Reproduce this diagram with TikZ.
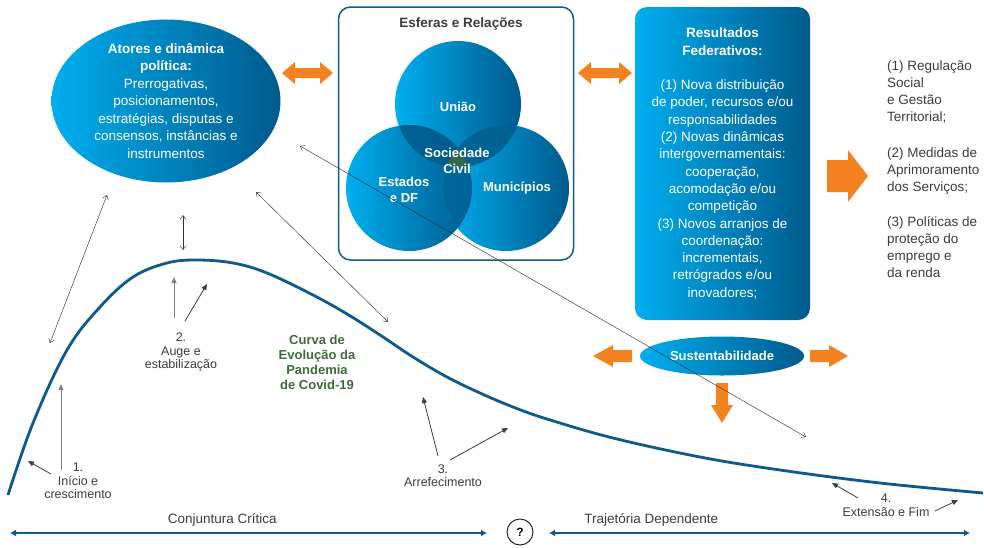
\documentclass[tikz,border=0pt]{standalone}
\usepackage{fontspec}
\setmainfont{Liberation Sans}
\usetikzlibrary{arrows.meta}
\usetikzlibrary{positioning}
\usetikzlibrary{shapes.geometric}
\definecolor{fedcyan}{HTML}{00AEEF}
\definecolor{fedblue}{HTML}{005A8C}
\definecolor{fedline}{HTML}{0F5A8C}
\definecolor{fedorange}{HTML}{F58220}
\definecolor{fedgreen}{HTML}{3F6B38}
\definecolor{fedgray}{HTML}{3C3C3C}
\begin{document}
\begin{tikzpicture}[x=1pt,y=-1pt,
	fedfill/.style={left color=fedcyan, right color=fedblue, draw=none},
	inner/.style={text=white, font=\bfseries\fontsize{13}{16}\selectfont, align=center},
	link/.style={black!80, line width=0.45pt, {Straight Barb[length=4pt,width=6pt]}-{Straight Barb[length=4pt,width=6pt]}},
	pointer/.style={fedgray, line width=0.8pt, -{Triangle[length=6pt,width=5pt]}},
	phase/.style={text=fedgray, align=center, font=\fontsize{12.5}{13.5}\selectfont},
	blockarrow/.style={fill=fedorange},
	axis/.style={fedline, line width=2.2pt, {Latex[length=6pt,width=7pt]}-{Latex[length=6pt,width=7pt]}}]
				\useasboundingbox (0,0) rectangle (984,547);

				\node[ellipse, fedfill, minimum width=229, minimum height=163, inner sep=0pt, text=white, align=center, font=\fontsize{13.5}{17.5}\selectfont] (atores) at (166,101) {\textbf{Atores e dinâmica}\\\textbf{política:}\\Prerrogativas,\\posicionamentos,\\estratégias, disputas e\\consensos, instâncias e\\instrumentos};

				\node[draw=fedline, line width=1.5pt, rounded corners=12pt, minimum width=235, minimum height=253] (esferas) at (456,133.5) {};
				\node[font=\bfseries\fontsize{13.5}{16}\selectfont, text=fedgray] (esftitle) at (461,24) {Esferas e Relações};
				\node[circle, fedfill, minimum size=126, inner sep=0pt] (uniao) at (458,104) {};
				\node[circle, fedfill, minimum size=126, inner sep=0pt] (estados) at (409,188) {};
				\node[circle, fedfill, minimum size=126, inner sep=0pt] (municipios) at (506,188) {};
				\begin{scope}
					\clip (uniao.center) circle (63);
					\fill[fedblue, opacity=.85] (estados.center) circle (63);
					\fill[fedblue, opacity=.85] (municipios.center) circle (63);
				\end{scope}
				\begin{scope}
					\clip (estados.center) circle (63);
					\fill[fedblue, opacity=.85] (municipios.center) circle (63);
				\end{scope}
				\begin{scope}
					\clip (uniao.center) circle (63);
					\clip (estados.center) circle (63);
					\fill[fedgreen!80!fedblue] (municipios.center) circle (63);
				\end{scope}
				\node[inner] (luniao) at (458,107) {União};
				\node[inner] (lsociedade) at (457,161) {Sociedade\\Civil};
				\node[inner] (lestados) at (404,190) {Estados\\e DF};
				\node[inner] (lmunicipios) at (517,188) {Municípios};

				\node[rectangle, rounded corners=12pt, fedfill, minimum width=175, minimum height=313, text=white, align=center, font=\fontsize{13.5}{17.3}\selectfont] (resultados) at (722.5,163.5) {\textbf{Resultados}\\\textbf{Federativos:}\\[17.3pt](1) Nova distribuição\\de poder, recursos e/ou\\responsabilidades\\(2) Novas dinâmicas\\intergovernamentais:\\cooperação,\\acomodação e/ou\\competição\\(3) Novos arranjos de\\coordenação:\\incrementais,\\retrógrados e/ou\\inovadores;};

				\node[anchor=north west, align=left, text=fedgray, inner sep=0pt, font=\fontsize{13.5}{17}\selectfont] (efeitos) at (887,61) {(1) Regulação\\Social\\e Gestão\\Territorial;\\[19pt](2) Medidas de\\Aprimoramento\\dos Serviços;\\[18pt](3) Políticas de\\proteção do\\emprego e\\da renda};

				\node[ellipse, fedfill, minimum width=164, minimum height=39, inner] (sustent) at (722,356) {Sustentabilidade};

				\fill[blockarrow] (282,73) -- (295,62) -- (295,68) -- (320,68) -- (320,62) -- (333,73) -- (320,84) -- (320,78) -- (295,78) -- (295,84) -- cycle;
				\fill[blockarrow] (578,73) -- (591,62) -- (591,68) -- (619,68) -- (619,62) -- (632,73) -- (619,84) -- (619,78) -- (591,78) -- (591,84) -- cycle;
				\fill[blockarrow] (827,160) -- (848,160) -- (848,150) -- (868,176) -- (848,202) -- (848,192) -- (827,192) -- cycle;
				\fill[blockarrow] (632,350) -- (613,350) -- (613,345) -- (593,356) -- (613,367) -- (613,362) -- (632,362) -- cycle;
				\fill[blockarrow] (810,350) -- (829,350) -- (829,345) -- (848,356) -- (829,367) -- (829,362) -- (810,362) -- cycle;
				\fill[blockarrow] (716,383) -- (728,383) -- (728,405) -- (733,405) -- (722,423) -- (711,405) -- (716,405) -- cycle;

				\draw[fedline, line width=2.8pt] plot[smooth, tension=0.6] coordinates {(8,495) (33,423) (67,350) (100,307) (133,277) (167,263) (197,260) (233,263) (267,273) (313,295) (347,314) (380,335) (413,357) (447,377) (480,393) (513,407) (547,419) (613,438) (700,457) (780,470) (880,483) (983,493)};
				\node[text=fedgreen, align=center, font=\bfseries\fontsize{13}{15}\selectfont] (curva) at (317,362) {Curva de\\Evolução da\\Pandemia\\de Covid-19};

				\node[phase] (p1) at (78,481) {1.\\Início e\\crescimento};
				\node[phase] (p2) at (181,352) {2.\\Auge e\\estabilização};
				\node[phase] (p3) at (443,475.5) {3.\\Arrefecimento};
				\node[phase] (p4) at (886,505) {4.\\Extensão e Fim};

				\draw[pointer, gray] (61,470) -- (61,384);
				\draw[pointer] (51,474) -- (28,461);
				\draw[pointer, gray] (174,318) -- (174,277);
				\draw[pointer] (185,321) -- (207,284);
				\draw[pointer] (438,456) -- (423,397);
				\draw[pointer] (450,460) -- (508,428);
				\draw[pointer] (858,498) -- (832,483);
				\draw[pointer] (935,511) -- (958,500);

				\coordinate (l1a) at (50,343);
				\coordinate (l1b) at (107,195);
				\coordinate (l2a) at (183,250);
				\coordinate (l2b) at (183,215);
				\coordinate (l3a) at (388,322);
				\coordinate (l3b) at (256,192);
				\coordinate (l4a) at (806,437);
				\coordinate (l4b) at (300,146);
				\draw[link] (l1a) -- (l1b);
				\draw[link] (l2a) -- (l2b);
				\draw[link] (l3a) -- (l3b);
				\draw[link] (l4a) -- (l4b);

				\node[circle, draw=black!85, line width=1pt, minimum size=26, inner sep=0pt, font=\bfseries\fontsize{12}{14}\selectfont] (qmark) at (520,532) {?};
				\coordinate (c0) at (10,533);
				\coordinate (c1) at (487,533);
				\coordinate (t0) at (549,533);
				\coordinate (t1) at (970,533);
				\draw[axis] (c0) -- (c1) node[pos=0.445, above=2pt, text=fedgray, font=\fontsize{13.5}{15}\selectfont] (conj) {Conjuntura Crítica};
				\draw[axis] (t0) -- (t1) node[pos=0.243, above=2pt, text=fedgray, font=\fontsize{13.5}{15}\selectfont] (traj) {Trajetória Dependente};
\end{tikzpicture}
\end{document}
